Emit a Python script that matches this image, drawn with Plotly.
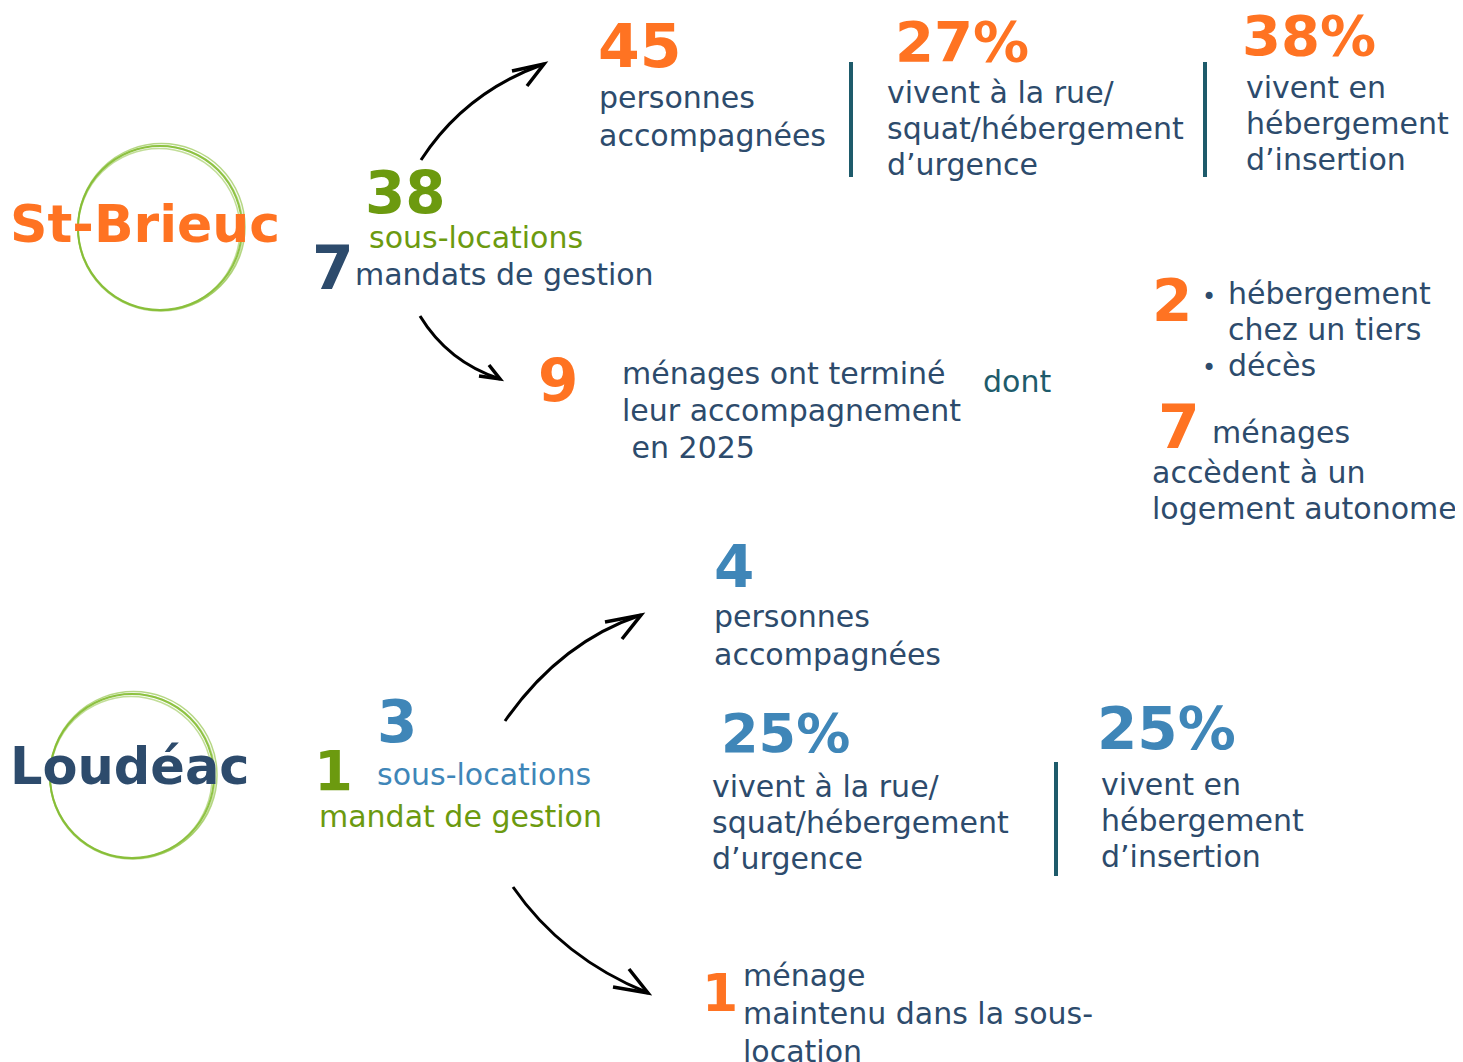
import plotly.graph_objects as go

villes = ["St-Brieuc", "Loudéac"]

sb_sous_locations = 38
sb_mandats = 7
sb_personnes = 45
sb_pct_rue = 27
sb_pct_insertion = 38
sb_termines = 9
sb_autres = 2
sb_autonome = 7

lo_sous_locations = 3
lo_mandats = 1
lo_personnes = 4
lo_pct_rue = 25
lo_pct_insertion = 25
lo_maintenu = 1

lbl_personnes = ["personnes", "accompagnées"]
lbl_rue = ["vivent à la rue/", "squat/hébergement", "d’urgence"]
lbl_insertion = ["vivent en", "hébergement", "d’insertion"]
lbl_termines = ["ménages ont terminé", "leur accompagnement", " en 2025"]
lbl_autres = ["hébergement", "chez un tiers", "décès"]
lbl_autonome = ["accèdent à un", "logement autonome"]
lbl_maintenu = ["ménage", "maintenu dans la sous-", "location"]

ORANGE = "#FF7322"
NAVY = "#2D4B6C"
GREEN = "#6C9A0F"
BLUE = "#3F86B8"
TEAL = "#1E5B6B"
RING = "#86BE34"

W, H = 1463, 1062
OFF = 8  # marge du body de la page html
BIG = "DejaVu Sans"
BODY = "DejaVu Sans"
FS = 30

fig = go.Figure()
fig.add_trace(go.Scatter(x=[OFF, W], y=[OFF, H], mode="markers", marker=dict(opacity=0),
                         hoverinfo="skip", showlegend=False))


def txt(x, y, s, color, size, bold=False, anchor="left"):
    fig.add_annotation(x=x, y=y, text=("<b>%s</b>" % s) if bold else s, showarrow=False,
                       xanchor=anchor, yanchor="middle",
                       font=dict(family=BIG if bold else BODY, size=size, color=color))


def lines(x, y0, step, items, color, size=FS):
    for i, s in enumerate(items):
        txt(x, y0 + i * step, s, color, size)


def ring(cx, cy, r):
    # cercle "dessiné à la main" : quelques tracés légèrement décalés
    for dx, dy, dr, op, w in [(0, 0, 0, 0.9, 2), (1.5, -1, 1.5, 0.6, 1.5), (-1, 1.5, -1, 0.5, 1.5), (0.5, 0.5, 0.8, 0.4, 1.2)]:
        fig.add_shape(type="circle", x0=cx - r - dr + dx, x1=cx + r + dr + dx,
                      y0=cy - r - dr + dy, y1=cy + r + dr + dy,
                      line=dict(color=RING, width=w), opacity=op)


def arrow(p0, c, p1, b1, b2):
    fig.add_shape(type="path", path="M %d %d Q %d %d %d %d" % (p0[0], p0[1], c[0], c[1], p1[0], p1[1]),
                  line=dict(color="black", width=3))
    fig.add_shape(type="path", path="M %d %d L %d %d L %d %d" % (b1[0], b1[1], p1[0], p1[1], b2[0], b2[1]),
                  line=dict(color="black", width=3.5))


def vbar(x, y0, y1):
    fig.add_shape(type="line", x0=x, x1=x, y0=y0, y1=y1, line=dict(color=TEAL, width=4))


# ---------------- St-Brieuc ----------------
ring(160, 228, 82)
txt(8, 224, villes[0], ORANGE, 52, bold=True)

txt(363, 193, sb_sous_locations, GREEN, 58, bold=True)
txt(367, 237, "sous-locations", GREEN, FS)
txt(310, 268, sb_mandats, NAVY, 60, bold=True)
txt(353, 274, "mandats de gestion", NAVY, FS)

arrow((421, 160), (465, 92), (544, 64), (512, 71), (527, 86))
txt(596, 46, sb_personnes, ORANGE, 60, bold=True)
lines(597, 97, 38, lbl_personnes, NAVY)
vbar(851, 62, 177)
txt(893, 41, "%d%%" % sb_pct_rue, ORANGE, 56, bold=True)
lines(885, 92, 36, lbl_rue, NAVY)
vbar(1205, 62, 177)
txt(1240, 35, "%d%%" % sb_pct_insertion, ORANGE, 56, bold=True)
lines(1244, 87, 36, lbl_insertion, NAVY)

arrow((420, 316), (448, 362), (500, 379), (479, 376), (489, 365))
txt(536, 381, sb_termines, ORANGE, 58, bold=True)
lines(620, 373, 37, lbl_termines, NAVY)
txt(981, 381, "dont", TEAL, FS)

txt(1150, 301, sb_autres, ORANGE, 58, bold=True)
txt(1200, 297, "•", NAVY, 24)
txt(1200, 368, "•", NAVY, 24)
lines(1226, 293, 36, lbl_autres[:2], NAVY)
txt(1226, 365, lbl_autres[2], NAVY, FS)
txt(1156, 427, sb_autonome, ORANGE, 60, bold=True)
txt(1210, 432, "ménages", NAVY, FS)
lines(1150, 472, 36, lbl_autonome, NAVY)

# ---------------- Loudéac ----------------
ring(132, 776, 82)
txt(8, 766, villes[1], NAVY, 51, bold=True)

txt(375, 722, lo_sous_locations, BLUE, 58, bold=True)
txt(312, 770, lo_mandats, GREEN, 56, bold=True)
txt(375, 774, "sous-locations", BLUE, FS)
txt(317, 816, "mandat de gestion", GREEN, FS)

arrow((505, 721), (560, 642), (641, 615), (605, 622), (622, 639))
txt(712, 567, lo_personnes, BLUE, 58, bold=True)
lines(712, 616, 38, lbl_personnes, NAVY)
txt(719, 733, "%d%%" % lo_pct_rue, BLUE, 54, bold=True)
lines(710, 786, 36, lbl_rue, NAVY)
vbar(1056, 762, 876)
txt(1095, 729, "%d%%" % lo_pct_insertion, BLUE, 58, bold=True)
lines(1099, 784, 36, lbl_insertion, NAVY)

arrow((513, 887), (562, 958), (648, 993), (613, 987), (629, 969))
txt(700, 993, lo_maintenu, ORANGE, 52, bold=True)
lines(741, 975, 38, lbl_maintenu, NAVY)

fig.update_layout(width=W - OFF, height=H - OFF, margin=dict(l=0, r=0, t=0, b=0),
                  paper_bgcolor="white", plot_bgcolor="white", showlegend=False,
                  xaxis=dict(range=[OFF, W], visible=False, fixedrange=True),
                  yaxis=dict(range=[H, OFF], visible=False, fixedrange=True))
fig.write_html("out.html")
